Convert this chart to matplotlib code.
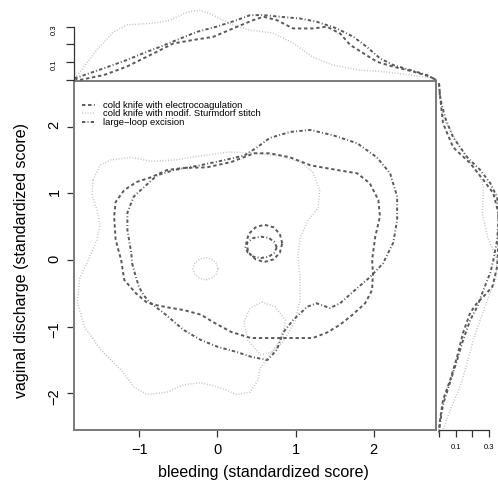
import numpy as np
import matplotlib
matplotlib.use("Agg")
import matplotlib.pyplot as plt
from matplotlib.lines import Line2D

plt.rcParams['font.family'] = ['Liberation Sans', 'DejaVu Sans']
plt.rcParams['lines.scale_dashes'] = False

# contour outlines (bleeding, discharge)
electro_x = [-1.23, -1.19, -1.04, -0.91, -0.81, -0.59, -0.43, -0.21, -0.04, 0.18, 0.43, 0.80, 1.22, 1.40,
             1.57, 1.73, 1.89, 1.98, 1.99, 1.98, 2.02, 2.08, 2.06, 1.95, 1.79, 1.53, 1.19, 0.93, 0.67, 0.47,
             0.18, -0.13, -0.43, -0.64, -0.85, -1.03, -1.19, -1.30, -1.32, -1.30]
electro_y = [0.00, -0.30, -0.50, -0.63, -0.67, -0.72, -0.75, -0.82, -0.94, -1.08, -1.17, -1.17, -1.17, -1.09,
             -0.97, -0.82, -0.65, -0.45, -0.20, 0.00, 0.35, 0.65, 0.90, 1.15, 1.30, 1.35, 1.42, 1.54, 1.60, 1.60,
             1.47, 1.39, 1.38, 1.35, 1.24, 1.17, 1.05, 0.87, 0.65, 0.30]
electro_in_x = [0.83, 0.80, 0.72, 0.60, 0.49, 0.40, 0.37, 0.40, 0.49, 0.60, 0.72, 0.80]
electro_in_y = [0.25, 0.39, 0.49, 0.53, 0.49, 0.39, 0.25, 0.11, 0.01, -0.03, 0.01, 0.11]

loop_x = [-1.09, -1.04, -1.00, -0.94, -0.87, -0.68, -0.55, -0.43, -0.21, 0.00, 0.25, 0.43, 0.64, 0.76,
          0.84, 0.97, 1.15, 1.27, 1.44, 1.57, 1.79, 1.95, 2.12, 2.25, 2.30, 2.30, 2.21, 2.04, 1.79, 1.48,
          1.19, 0.93, 0.67, 0.51, 0.35, 0.10, -0.22, -0.55, -0.77, -0.94, -1.07, -1.15, -1.15, -1.10]
loop_y = [-0.05, -0.26, -0.41, -0.53, -0.63, -0.80, -0.93, -1.05, -1.20, -1.30, -1.38, -1.45, -1.50, -1.35,
          -1.09, -0.90, -0.70, -0.65, -0.72, -0.65, -0.42, -0.26, -0.05, 0.26, 0.60, 0.95, 1.30, 1.54, 1.75, 1.87,
          1.95, 1.92, 1.83, 1.69, 1.57, 1.50, 1.42, 1.35, 1.27, 1.09, 0.95, 0.71, 0.45, 0.10]
loop_in_x = [0.76, 0.73, 0.66, 0.56, 0.46, 0.39, 0.36, 0.39, 0.46, 0.56, 0.66, 0.73]
loop_in_y = [0.19, 0.27, 0.33, 0.35, 0.33, 0.27, 0.19, 0.11, 0.05, 0.03, 0.05, 0.11]

sturm_x = [-1.59, -1.50, -1.36, -1.10, -0.85, -0.54, -0.22, 0.16, 0.48, 0.80, 1.06, 1.22, 1.31, 1.29,
           1.15, 1.06, 1.03, 1.06, 1.06, 0.99, 0.84, 0.67, 0.55, 0.52, 0.42, 0.25, 0.05, -0.21, -0.43,
           -0.64, -0.90, -1.07, -1.23, -1.49, -1.70, -1.79, -1.76, -1.65, -1.54, -1.50, -1.54, -1.60]
sturm_y = [1.20, 1.42, 1.50, 1.54, 1.48, 1.50, 1.56, 1.62, 1.60, 1.56, 1.47, 1.32, 1.05, 0.79,
           0.57, 0.33, 0.07, -0.30, -0.60, -0.93, -1.23, -1.42, -1.62, -1.80, -1.98, -2.02, -1.92, -1.84, -1.87,
           -1.98, -2.02, -1.90, -1.65, -1.35, -1.00, -0.64, -0.27, 0.00, 0.30, 0.52, 0.75, 0.97]
sturm_a_x = [0.01, -0.01, -0.07, -0.15, -0.23, -0.29, -0.31, -0.29, -0.23, -0.15, -0.07, -0.01]
sturm_a_y = [-0.13, -0.05, 0.01, 0.04, 0.01, -0.05, -0.13, -0.21, -0.27, -0.30, -0.27, -0.21]
sturm_b_x = [0.57, 0.74, 0.87, 0.84, 0.70, 0.55, 0.39, 0.34, 0.42]
sturm_b_y = [-0.63, -0.70, -0.90, -1.15, -1.38, -1.42, -1.20, -0.93, -0.72]

# marginal densities of bleeding (top)
top_electro_x = [-1.83, -1.76, -1.45, -1.16, -0.86, -0.56, -0.31, -0.05, 0.20, 0.46, 0.59, 0.76, 0.97,
                 1.23, 1.40, 1.57, 1.70, 1.87, 2.04, 2.25, 2.51, 2.72, 2.80]
top_electro_d = [0.01, 0.0, 0.028, 0.075, 0.14, 0.206, 0.225, 0.243, 0.29, 0.337, 0.356, 0.337, 0.29,
                 0.29, 0.30, 0.262, 0.197, 0.15, 0.103, 0.075, 0.047, 0.019, 0.0]
top_loop_x = [-1.83, -1.76, -1.45, -1.16, -0.95, -0.73, -0.52, -0.26, -0.01, 0.25, 0.42, 0.59, 0.80,
              1.06, 1.27, 1.53, 1.74, 1.91, 2.08, 2.25, 2.47, 2.68, 2.80]
top_loop_d = [0.01, 0.019, 0.066, 0.112, 0.15, 0.187, 0.225, 0.271, 0.30, 0.337, 0.365, 0.365, 0.356,
              0.346, 0.328, 0.29, 0.243, 0.187, 0.122, 0.084, 0.056, 0.028, 0.0]
top_sturm_x = [-1.82, -1.54, -1.33, -1.15, -0.82, -0.60, -0.39, -0.22, -0.06, 0.20, 0.42, 0.71, 0.97,
               1.22, 1.48, 1.82, 2.17, 2.46, 2.76]
top_sturm_d = [0.011, 0.169, 0.27, 0.31, 0.32, 0.337, 0.382, 0.393, 0.365, 0.31, 0.28, 0.264, 0.208,
               0.129, 0.084, 0.056, 0.045, 0.028, 0.011]

# marginal densities of vaginal discharge (right)
right_electro_y = [2.65, 2.32, 2.05, 1.69, 1.45, 1.20, 1.00, 0.70, 0.30, -0.10, -0.40, -0.55, -0.64,
                   -0.79, -1.09, -1.45, -1.80, -2.10, -2.40, -2.59]
right_electro_d = [0.0, 0.012, 0.024, 0.085, 0.188, 0.267, 0.327, 0.358, 0.358, 0.35, 0.321, 0.267, 0.23,
                   0.188, 0.145, 0.109, 0.067, 0.024, 0.006, 0.0]
right_loop_y = [2.65, 2.44, 2.14, 1.84, 1.54, 1.35, 1.15, 0.94, 0.60, 0.30, 0.00, -0.19, -0.45, -0.70,
                -0.90, -1.20, -1.50, -1.83, -2.17, -2.55]
right_loop_d = [0.0, 0.006, 0.036, 0.085, 0.17, 0.248, 0.309, 0.35, 0.358, 0.35, 0.327, 0.309, 0.267, 0.23,
                0.188, 0.145, 0.109, 0.067, 0.024, 0.0]
right_sturm_y = [2.55, 2.14, 1.69, 1.24, 1.09, 0.70, 0.35, 0.00, -0.30, -0.60, -0.90, -1.20, -1.54, -1.90,
                 -2.25, -2.55]
right_sturm_d = [0.0, 0.024, 0.127, 0.248, 0.267, 0.261, 0.291, 0.35, 0.34, 0.291, 0.248, 0.206, 0.17, 0.127,
                 0.067, 0.024]

labels = ['cold knife with electrocoagulation', 'cold knife with modif. Sturmdorf stitch', 'large\u2212loop excision']

dark = '#5a5a5a'
light = '#c2c2c2'
sty_e = dict(color=dark, lw=1.4, dashes=(2.4, 2.0))
sty_s = dict(color=light, lw=1.1, dashes=(0.7, 1.3))
sty_l = dict(color=dark, lw=1.4, dashes=(2.4, 1.6, 0.7, 1.6))


def closed(a):
    return list(a) + [a[0]]


fig = plt.figure(figsize=(4.98, 4.90), dpi=100)
ax = fig.add_axes([74 / 498, 60 / 490, 362 / 498, 349 / 490])
axt = fig.add_axes([74 / 498, 410 / 490, 362 / 498, 75 / 490])
axr = fig.add_axes([439 / 498, 60 / 490, 59 / 498, 349 / 490])

xlim = (-1.833, 2.797)
ylim = (-2.549, 2.684)

# main panel
ax.plot(closed(sturm_x), closed(sturm_y), **sty_s)
ax.plot(closed(sturm_a_x), closed(sturm_a_y), **sty_s)
ax.plot(closed(sturm_b_x), closed(sturm_b_y), **sty_s)
ax.plot(closed(electro_x), closed(electro_y), **sty_e)
ax.plot(closed(electro_in_x), closed(electro_in_y), **sty_e)
ax.plot(closed(loop_x), closed(loop_y), **sty_l)
ax.plot(closed(loop_in_x), closed(loop_in_y), **sty_l)
ax.set_xlim(xlim)
ax.set_ylim(ylim)
ax.set_xticks([-1, 0, 1, 2])
ax.set_yticks([-2, -1, 0, 1, 2])
ax.tick_params(length=5, width=0.9, color='#333333', labelsize=10.5, pad=4)
ax.tick_params(axis='y', labelrotation=90)
for s in ax.spines.values():
    s.set_color('#7a7a7a')
    s.set_linewidth(1.4)
ax.set_xlabel('bleeding (standardized score)', fontsize=11.5)
ax.set_ylabel('vaginal discharge (standardized score)', fontsize=11.5)
ax.xaxis.set_label_coords(0.522, -0.1)
ax.yaxis.set_label_coords(-0.125, 0.487)

handles = [Line2D([], [], **sty_e), Line2D([], [], **sty_s), Line2D([], [], **sty_l)]
ax.legend(handles, labels, loc='upper left', bbox_to_anchor=(0.022, 0.943), frameon=False,
          fontsize=6.8, handlelength=1.4, handletextpad=0.8, labelspacing=-0.05, borderaxespad=0,
          borderpad=0)

# top marginal
axt.plot(top_sturm_x, top_sturm_d, **sty_s)
axt.plot(top_electro_x, top_electro_d, **sty_e)
axt.plot(top_loop_x, top_loop_d, **sty_l)
axt.set_xlim(xlim)
axt.set_ylim(0, 0.422)
axt.set_xticks([])
axt.set_yticks([0, 0.1, 0.2, 0.3])
axt.set_yticklabels(['', '0.1', '', '0.3'])
axt.tick_params(axis='y', length=5.5, width=0.9, color='#333333', labelsize=5.5, pad=6, labelrotation=90)
for k in ['top', 'right', 'bottom']:
    axt.spines[k].set_visible(False)
axt.spines['left'].set_bounds(0, 0.3)
axt.spines['left'].set_color('#333333')
axt.spines['left'].set_linewidth(0.9)
axt.patch.set_alpha(0)

# right marginal
axr.plot(right_sturm_d, right_sturm_y, **sty_s)
axr.plot(right_electro_d, right_electro_y, **sty_e)
axr.plot(right_loop_d, right_loop_y, **sty_l)
axr.set_ylim(ylim)
axr.set_xlim(0, 0.355)
axr.set_yticks([])
axr.set_xticks([0, 0.1, 0.2, 0.3])
axr.set_xticklabels(['', '0.1', '', '0.3'])
axr.tick_params(axis='x', length=5, width=0.9, color='#333333', labelsize=5.5, pad=5)
for k in ['top', 'right', 'left']:
    axr.spines[k].set_visible(False)
axr.spines['bottom'].set_bounds(0, 0.3)
axr.spines['bottom'].set_color('#333333')
axr.spines['bottom'].set_linewidth(0.9)
axr.patch.set_alpha(0)
for a in (axt, axr):
    for ln in a.lines:
        ln.set_clip_on(False)

fig.savefig('out.png', dpi=100)
